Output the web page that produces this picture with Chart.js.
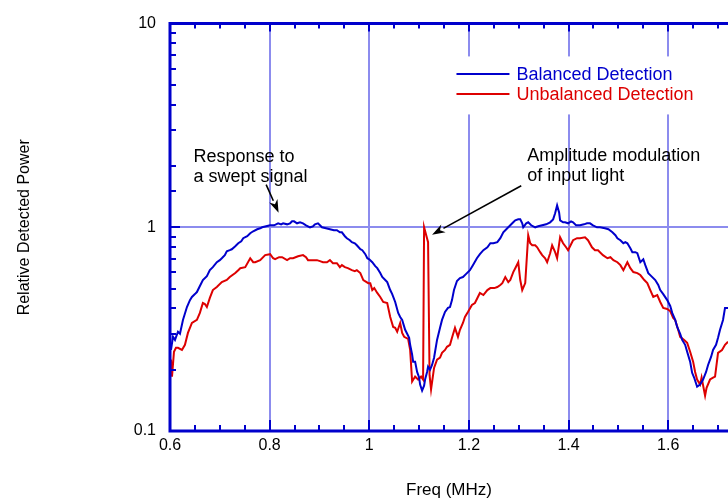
<!DOCTYPE html>
<html>
<head>
<meta charset="utf-8">
<script src="https://cdn.jsdelivr.net/npm/chart.js@4.4.1/dist/chart.umd.min.js"></script>
<style>
  html, body { margin: 0; padding: 0; background: #fff; }
  canvas { display: block; }
</style>
</head>
<body>
<canvas id="c" width="728" height="500"></canvas>
<script>
// Swept-frequency response, balanced detector (MHz, relative power)
const freqBlue = [
  0.602, 0.606, 0.610, 0.616, 0.620, 0.626, 0.634, 0.640, 0.644, 0.650,
  0.654, 0.660, 0.666, 0.674, 0.680, 0.686, 0.694, 0.700, 0.704, 0.710,
  0.714, 0.720, 0.724, 0.731, 0.737, 0.743, 0.747, 0.755, 0.761, 0.767,
  0.775, 0.781, 0.785, 0.793, 0.801, 0.809, 0.817, 0.823, 0.827, 0.835,
  0.841, 0.845, 0.849, 0.855, 0.861, 0.867, 0.873, 0.881, 0.887, 0.891,
  0.897, 0.901, 0.905, 0.913, 0.921, 0.929, 0.935, 0.941, 0.945, 0.951,
  0.955, 0.961, 0.965, 0.971, 0.975, 0.982, 0.986, 0.992, 0.996, 1.000,
  1.006, 1.012, 1.016, 1.022, 1.026, 1.032, 1.036, 1.042, 1.046, 1.052,
  1.058, 1.062, 1.066, 1.072, 1.076, 1.080, 1.082, 1.086, 1.088, 1.092,
  1.096, 1.100, 1.102, 1.106, 1.110, 1.112, 1.116, 1.118, 1.122, 1.126,
  1.130, 1.136, 1.142, 1.146, 1.152, 1.158, 1.162, 1.166, 1.170, 1.176,
  1.182, 1.188, 1.194, 1.202, 1.208, 1.216, 1.222, 1.229, 1.237, 1.243,
  1.249, 1.257, 1.263, 1.269, 1.277, 1.283, 1.289, 1.293, 1.299, 1.303,
  1.307, 1.309, 1.315, 1.319, 1.325, 1.333, 1.339, 1.347, 1.355, 1.363,
  1.369, 1.373, 1.377, 1.381, 1.383, 1.389, 1.393, 1.399, 1.405, 1.409,
  1.415, 1.423, 1.431, 1.437, 1.443, 1.449, 1.457, 1.463, 1.473, 1.480,
  1.488, 1.494, 1.498, 1.504, 1.510, 1.514, 1.518, 1.524, 1.528, 1.534,
  1.538, 1.544, 1.550, 1.554, 1.560, 1.566, 1.574, 1.580, 1.584, 1.590,
  1.598, 1.604, 1.608, 1.614, 1.618, 1.624, 1.628, 1.634, 1.638, 1.644,
  1.648, 1.652, 1.658, 1.664, 1.670, 1.676, 1.680, 1.686, 1.690, 1.696,
  1.700, 1.704, 1.710, 1.714, 1.720
];
const powerBlue = [
  0.250, 0.290, 0.280, 0.307, 0.300, 0.351, 0.406, 0.439, 0.455, 0.470,
  0.481, 0.515, 0.551, 0.576, 0.616, 0.637, 0.674, 0.690, 0.705, 0.730,
  0.763, 0.772, 0.780, 0.807, 0.835, 0.854, 0.884, 0.904, 0.935, 0.956,
  0.978, 0.989, 1.000, 1.011, 1.023, 1.023, 1.046, 1.034, 1.046, 1.034,
  1.046, 1.070, 1.070, 1.046, 1.058, 1.046, 1.023, 1.000, 1.011, 1.034,
  1.046, 1.023, 1.000, 0.989, 0.978, 0.967, 0.967, 0.945, 0.945, 0.904,
  0.884, 0.864, 0.845, 0.835, 0.816, 0.780, 0.772, 0.738, 0.705, 0.697,
  0.674, 0.645, 0.630, 0.596, 0.570, 0.551, 0.538, 0.492, 0.470, 0.430,
  0.380, 0.363, 0.351, 0.314, 0.300, 0.287, 0.265, 0.237, 0.219, 0.219,
  0.195, 0.183, 0.169, 0.158, 0.167, 0.179, 0.195, 0.207, 0.200, 0.211,
  0.229, 0.280, 0.321, 0.351, 0.384, 0.402, 0.406, 0.439, 0.492, 0.545,
  0.563, 0.570, 0.589, 0.616, 0.652, 0.705, 0.738, 0.772, 0.798, 0.835,
  0.835, 0.845, 0.884, 0.945, 0.989, 1.023, 1.058, 1.082, 1.094, 1.094,
  1.046, 1.000, 1.046, 1.058, 1.023, 1.000, 1.011, 1.023, 1.034, 1.058,
  1.094, 1.171, 1.281, 1.184, 1.082, 1.058, 1.058, 1.046, 1.070, 1.058,
  1.023, 1.023, 1.034, 1.046, 1.046, 1.023, 1.000, 1.000, 0.989, 0.978,
  0.945, 0.914, 0.884, 0.864, 0.835, 0.845, 0.835, 0.789, 0.755, 0.755,
  0.746, 0.674, 0.697, 0.652, 0.596, 0.576, 0.551, 0.521, 0.492, 0.470,
  0.439, 0.411, 0.380, 0.351, 0.324, 0.300, 0.280, 0.265, 0.245, 0.219,
  0.193, 0.183, 0.165, 0.169, 0.179, 0.195, 0.211, 0.231, 0.250, 0.265,
  0.287, 0.314, 0.351, 0.402, 0.402
];

// Same sweep, unbalanced (single) detector
const freqRed = [
  0.602, 0.604, 0.608, 0.612, 0.616, 0.624, 0.630, 0.636, 0.644, 0.654,
  0.660, 0.666, 0.670, 0.674, 0.680, 0.686, 0.694, 0.704, 0.714, 0.720,
  0.731, 0.737, 0.741, 0.751, 0.761, 0.767, 0.771, 0.781, 0.791, 0.801,
  0.807, 0.811, 0.819, 0.825, 0.835, 0.841, 0.847, 0.857, 0.867, 0.873,
  0.877, 0.887, 0.895, 0.901, 0.907, 0.915, 0.921, 0.927, 0.935, 0.941,
  0.945, 0.951, 0.957, 0.965, 0.971, 0.975, 0.982, 0.988, 0.998, 1.002,
  1.006, 1.010, 1.016, 1.022, 1.028, 1.036, 1.042, 1.048, 1.052, 1.056,
  1.062, 1.066, 1.070, 1.078, 1.082, 1.086, 1.092, 1.098, 1.104, 1.108,
  1.110, 1.118, 1.121, 1.124, 1.130, 1.136, 1.142, 1.146, 1.152, 1.156,
  1.162, 1.166, 1.172, 1.178, 1.182, 1.188, 1.192, 1.198, 1.206, 1.212,
  1.218, 1.222, 1.229, 1.237, 1.243, 1.251, 1.257, 1.263, 1.267, 1.273,
  1.279, 1.283, 1.289, 1.293, 1.299, 1.303, 1.307, 1.313, 1.319, 1.323,
  1.327, 1.333, 1.337, 1.343, 1.347, 1.353, 1.357, 1.363, 1.367, 1.373,
  1.377, 1.383, 1.389, 1.395, 1.399, 1.405, 1.409, 1.417, 1.423, 1.433,
  1.439, 1.447, 1.453, 1.459, 1.469, 1.478, 1.484, 1.490, 1.498, 1.504,
  1.510, 1.518, 1.524, 1.530, 1.538, 1.544, 1.552, 1.558, 1.564, 1.570,
  1.578, 1.584, 1.590, 1.598, 1.604, 1.610, 1.614, 1.620, 1.624, 1.632,
  1.638, 1.644, 1.650, 1.654, 1.658, 1.664, 1.667, 1.674, 1.677, 1.684,
  1.690, 1.694, 1.700, 1.708, 1.714, 1.720
];
const powerRed = [
  0.224, 0.185, 0.245, 0.256, 0.256, 0.250, 0.265, 0.303, 0.339, 0.351,
  0.380, 0.425, 0.420, 0.406, 0.450, 0.492, 0.509, 0.538, 0.551, 0.570,
  0.596, 0.616, 0.630, 0.637, 0.705, 0.674, 0.674, 0.690, 0.730, 0.738,
  0.705, 0.697, 0.713, 0.713, 0.690, 0.705, 0.705, 0.721, 0.730, 0.713,
  0.690, 0.690, 0.690, 0.682, 0.674, 0.674, 0.690, 0.667, 0.667, 0.637,
  0.652, 0.637, 0.630, 0.616, 0.609, 0.616, 0.596, 0.551, 0.532, 0.532,
  0.492, 0.503, 0.476, 0.455, 0.430, 0.425, 0.363, 0.324, 0.321, 0.307,
  0.339, 0.303, 0.290, 0.283, 0.250, 0.175, 0.185, 0.179, 0.185, 0.179,
  1.000, 0.845, 0.188, 0.160, 0.204, 0.224, 0.229, 0.242, 0.250, 0.259,
  0.265, 0.287, 0.321, 0.290, 0.314, 0.339, 0.363, 0.384, 0.416, 0.425,
  0.455, 0.476, 0.465, 0.492, 0.503, 0.503, 0.509, 0.521, 0.532, 0.570,
  0.538, 0.551, 0.603, 0.630, 0.674, 0.551, 0.492, 0.532, 0.914, 0.835,
  0.816, 0.816, 0.798, 0.755, 0.730, 0.705, 0.674, 0.746, 0.816, 0.755,
  0.705, 0.894, 0.835, 0.798, 0.772, 0.826, 0.864, 0.884, 0.884, 0.894,
  0.864, 0.798, 0.772, 0.772, 0.730, 0.705, 0.713, 0.690, 0.674, 0.652,
  0.616, 0.674, 0.630, 0.603, 0.596, 0.583, 0.551, 0.532, 0.492, 0.455,
  0.465, 0.430, 0.402, 0.397, 0.388, 0.359, 0.351, 0.314, 0.290, 0.280,
  0.271, 0.245, 0.219, 0.195, 0.179, 0.169, 0.183, 0.149, 0.163, 0.179,
  0.183, 0.185, 0.242, 0.250, 0.265, 0.274
];

// Axis ticks
const freqTicks = [0.6, 0.8, 1.0, 1.2, 1.4, 1.6];
const powerDecades = [0.1, 1, 10];

// Callouts: text anchor, arrow tail and arrow tip in (MHz, power)
const callouts = [
  { lines: ['Response to', 'a swept signal'], text: [0.647, 2.10], tail: [0.793, 1.62], tip: [0.818, 1.18] },
  { lines: ['Amplitude modulation', 'of input light'], text: [1.317, 2.12], tail: [1.305, 1.60], tip: [1.126, 0.92] }
];

const FONT = '"Liberation Sans", Arial, Helvetica, sans-serif';
const AXIS_BLUE = '#0000cc';
const GRID_BLUE = '#8c8cee';
const BLUE = '#0000cc';
const RED = '#dd0000';

function toPoints(xs, ys) { return xs.map((x, i) => ({ x: x, y: ys[i] })); }

// Frame, inward ticks, in-plot legend and callouts
const framePlugin = {
  id: 'frame',
  beforeDatasetsDraw(chart) {
    const { ctx } = chart;
    const x = chart.scales.x, y = chart.scales.y;
    // legend backing box
    ctx.save();
    ctx.fillStyle = '#fff';
    const lx = x.getPixelForValue(1.163), ly = y.getPixelForValue(6.9);
    ctx.fillRect(lx, ly, 258, 58);
    ctx.restore();
  },
  afterDatasetsDraw(chart) {
    const { ctx, chartArea: a } = chart;
    const xs = chart.scales.x, ys = chart.scales.y;
    ctx.save();
    ctx.strokeStyle = AXIS_BLUE;
    ctx.lineWidth = 2;
    // left axis ticks (log decades long, intermediates short)
    ys.ticks.forEach(t => {
      const py = Math.round(ys.getPixelForValue(t.value));
      const major = powerDecades.some(d => Math.abs(d - t.value) < 1e-9);
      ctx.beginPath();
      ctx.moveTo(a.left, py);
      ctx.lineTo(a.left + (major ? 10 : 6), py);
      ctx.stroke();
    });
    // bottom and top ticks
    for (let k = 0; ; k++) {
      const v = 0.6 + k * 0.05;
      if (v > xs.max) break;
      const px = Math.round(xs.getPixelForValue(v));
      const major = k % 4 === 0;
      ctx.beginPath();
      ctx.moveTo(px, a.bottom);
      ctx.lineTo(px, a.bottom - (major ? 11 : 6));
      ctx.moveTo(px, a.top);
      ctx.lineTo(px, a.top + (major ? 8 : 5));
      ctx.stroke();
    }
    // frame lines
    ctx.lineWidth = 3;
    ctx.beginPath();
    ctx.moveTo(a.left, a.top);
    ctx.lineTo(a.right, a.top);
    ctx.moveTo(a.left, a.top - 1.5);
    ctx.lineTo(a.left, a.bottom);
    ctx.moveTo(a.left - 1.5, a.bottom);
    ctx.lineTo(a.right, a.bottom);
    ctx.stroke();

    // legend entries
    ctx.font = '18px ' + FONT;
    ctx.textBaseline = 'middle';
    ctx.textAlign = 'left';
    const lx0 = xs.getPixelForValue(1.175);
    const ly0 = ys.getPixelForValue(5.67);
    chart.data.datasets.forEach((ds, i) => {
      const py = Math.round(ly0 + i * 20);
      ctx.strokeStyle = ds.borderColor;
      ctx.lineWidth = 2;
      ctx.beginPath();
      ctx.moveTo(lx0, py);
      ctx.lineTo(lx0 + 53, py);
      ctx.stroke();
      ctx.fillStyle = ds.borderColor;
      ctx.fillText(ds.label, lx0 + 60, py + 1);
    });

    // callouts
    ctx.fillStyle = '#000';
    ctx.strokeStyle = '#000';
    ctx.textBaseline = 'alphabetic';
    callouts.forEach(c => {
      const tx = xs.getPixelForValue(c.text[0]);
      const ty = ys.getPixelForValue(c.text[1]);
      c.lines.forEach((s, j) => ctx.fillText(s, tx, ty + j * 20));
      const x0 = xs.getPixelForValue(c.tail[0]), y0 = ys.getPixelForValue(c.tail[1]);
      const x1 = xs.getPixelForValue(c.tip[0]), y1 = ys.getPixelForValue(c.tip[1]);
      const ang = Math.atan2(y1 - y0, x1 - x0);
      const hl = 13, hw = 4.5;
      const bx = x1 - hl * Math.cos(ang), by = y1 - hl * Math.sin(ang);
      ctx.lineWidth = 1.6;
      ctx.beginPath();
      ctx.moveTo(x0, y0);
      ctx.lineTo(bx, by);
      ctx.stroke();
      ctx.beginPath();
      ctx.moveTo(x1, y1);
      ctx.lineTo(bx - hw * Math.sin(ang), by + hw * Math.cos(ang));
      ctx.lineTo(x1 - 0.7 * hl * Math.cos(ang), y1 - 0.7 * hl * Math.sin(ang));
      ctx.lineTo(bx + hw * Math.sin(ang), by - hw * Math.cos(ang));
      ctx.closePath();
      ctx.fill();
    });
    ctx.restore();
  }
};

new Chart(document.getElementById('c').getContext('2d'), {
  type: 'line',
  data: {
    datasets: [
      { label: 'Balanced Detection', data: toPoints(freqBlue, powerBlue), borderColor: BLUE, borderWidth: 2, pointRadius: 0, tension: 0 },
      { label: 'Unbalanced Detection', data: toPoints(freqRed, powerRed), borderColor: RED, borderWidth: 2, pointRadius: 0, tension: 0 }
    ]
  },
  options: {
    responsive: false,
    animation: false,
    layout: { padding: { top: 22, right: 0, left: 0, bottom: 0 } },
    plugins: { legend: { display: false }, tooltip: { enabled: false } },
    scales: {
      x: {
        type: 'linear',
        min: 0.6,
        max: 1.72,
        afterFit: s => { s.height = 69; },
        afterBuildTicks: s => { s.ticks = freqTicks.map(v => ({ value: v })); },
        border: { display: false },
        grid: {
          drawTicks: false,
          lineWidth: 2,
          color: c => (c.tick && c.tick.value > 0.61) ? GRID_BLUE : 'rgba(0,0,0,0)'
        },
        ticks: {
          autoSkip: false,
          maxRotation: 0,
          padding: 5,
          color: '#000',
          font: { family: FONT, size: 16 },
          callback: v => String(+Number(v).toFixed(2))
        },
        title: {
          display: true,
          text: 'Freq (MHz)',
          color: '#000',
          font: { family: FONT, size: 17, lineHeight: 1 },
          padding: { top: 0, bottom: 1 }
        }
      },
      y: {
        type: 'logarithmic',
        min: 0.1,
        max: 10,
        afterFit: s => { s.width = 170; },
        border: { display: false },
        grid: {
          drawTicks: false,
          lineWidth: 2,
          color: c => (c.tick && Math.abs(c.tick.value - 1) < 1e-9) ? GRID_BLUE : 'rgba(0,0,0,0)'
        },
        ticks: {
          autoSkip: false,
          padding: 14,
          color: '#000',
          font: { family: FONT, size: 16 },
          callback: v => powerDecades.some(d => Math.abs(d - v) < 1e-9) ? String(v) : ''
        },
        title: {
          display: true,
          text: 'Relative Detected Power',
          color: '#000',
          font: { family: FONT, size: 16 },
          padding: { top: 15, bottom: 0 }
        }
      }
    }
  },
  plugins: [framePlugin]
});
</script>
</body>
</html>
